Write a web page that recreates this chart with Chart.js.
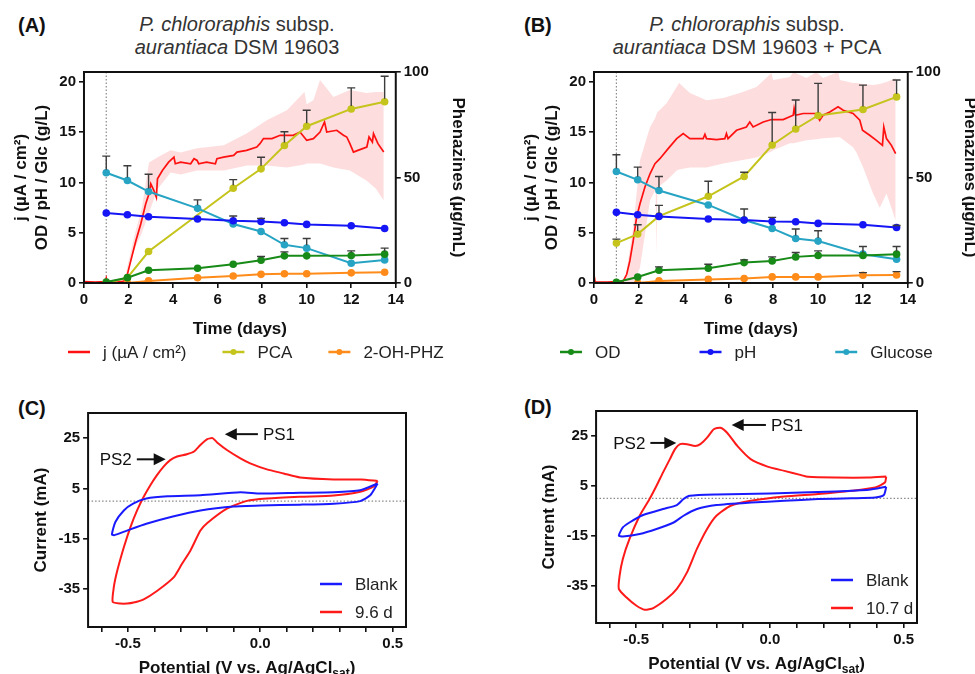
<!DOCTYPE html>
<html>
<head>
<meta charset="utf-8">
<script src="https://cdn.jsdelivr.net/npm/chart.js@4.4.1/dist/chart.umd.min.js"></script>
<style>
  html, body { margin: 0; padding: 0; background: #fff; }
  #page { position: relative; width: 975px; height: 674px; overflow: hidden; font-family: 'Liberation Sans', Arial, sans-serif; }
  canvas { position: absolute; }
  .tag { position: absolute; font-weight: bold; font-size: 20px; line-height: 20px; color: #111; }
  .ttl { position: absolute; width: 400px; font-size: 20px; line-height: 23px; color: #333; text-align: center; }
</style>
</head>
<body>
<div id="page">
  <div class="tag" style="left:18px;top:15px">(A)</div>
  <div class="tag" style="left:524px;top:15px">(B)</div>
  <div class="tag" style="left:18px;top:398px">(C)</div>
  <div class="tag" style="left:524px;top:397px">(D)</div>
  <div class="ttl" style="left:37px;top:13px"><i>P. chlororaphis</i> subsp.<br><i>aurantiaca</i> DSM 19603</div>
  <div class="ttl" style="left:547px;top:13px"><i>P. chlororaphis</i> subsp.<br><i>aurantiaca</i> DSM 19603 + PCA</div>
  <canvas id="chartA" width="485" height="375" style="left:0;top:0"></canvas>
  <canvas id="chartB" width="505" height="375" style="left:485px;top:0"></canvas>
  <canvas id="chartC" width="485" height="289" style="left:0;top:385px"></canvas>
  <canvas id="chartD" width="490" height="289" style="left:485px;top:385px"></canvas>
</div>
<script>
const FAMILY = "'Liberation Sans', Arial, sans-serif";
Chart.defaults.font.family = FAMILY;
Chart.defaults.color = '#111';

// ---------- (A)/(B) time courses ----------
const sampleDays = [1, 1.95, 2.9, 5.1, 6.7, 7.95, 9, 10, 12, 13.5];
const dayTicks = [0, 2, 4, 6, 8, 10, 12, 14];
const leftTicks = [0, 5, 10, 15, 20];
const rightTicks = [0, 50, 100];
const inoculationDay = 1;

// (A) without PCA
const pcaA = [0, 2.5, 14.9, null, 44.9, 54.1, 65.2, 74.3, 82.5, 85.9];
const pcaErrA = [0, 0, 0, 0, 4.1, 5.5, 6.5, 7.6, 10, 12.1];
const ohphzA = [0, 0, 1.0, 2.5, 3.3, 4.1, 4.4, 4.4, 4.8, 5.1];
const ohphzErrA = [0, 0, 0, 0, 0, 0, 0, 0, 0, 0];
const odA = [0.1, 0.53, 1.27, 1.47, 1.87, 2.27, 2.7, 2.7, 2.73, 2.87];
const odErrA = [0, 0, 0, 0, 0, 0.36, 0.4, 0, 0.47, 0.6];
const phA = [6.97, 6.8, 6.6, 6.37, 6.2, 6.13, 6.0, 5.83, 5.7, 5.43];
const phErrA = [0, 0, 0, 0, 0.47, 0.3, 0, 0, 0, 0];
const glcA = [10.97, 10.2, 9.1, 7.43, 5.87, 5.13, 3.8, 3.47, 1.97, 2.3];
const glcErrA = [1.66, 1.47, 1.73, 0.84, 0, 0, 0.63, 0.96, 0, 0];

const jDaysA = [0, 0.5, 0.95, 1.0, 1.05, 1.5, 1.8, 1.95, 2.1, 2.33,
  2.55, 2.77, 2.92, 3.0, 3.14, 3.25, 3.3, 3.52, 3.8, 4.04,
  4.1, 4.34, 4.79, 4.94, 5.08, 5.15, 5.5, 5.9, 5.97, 6.27,
  6.72, 6.87, 7.3, 7.76, 7.9, 8.06, 8.44, 8.81, 9.4, 9.7,
  10.0, 10.3, 10.6, 10.8, 10.9, 11.35, 11.65, 11.8, 11.94, 12.1,
  12.3, 12.7, 12.8, 12.95, 13.0, 13.2, 13.46];
const jA = [0.15, 0.1, 0.15, 0.5, 0.1, 0.1, 0.2, 0.87, 2.2, 4.2,
  5.87, 7.87, 8.87, 9.87, 9.2, 8.53, 10.37, 11.2, 12.03, 12.53,
  11.87, 12.03, 11.87, 12.37, 12.2, 11.87, 12.03, 11.87, 12.37, 12.53,
  12.7, 13.03, 13.2, 13.53, 13.87, 14.37, 14.37, 14.7, 14.7, 15.03,
  14.2, 14.37, 15.03, 16.03, 15.03, 15.2, 14.7, 14.53, 13.87, 13.03,
  13.2, 13.53, 14.53, 14.03, 14.87, 13.87, 13.03];
const bandDaysA = [1.9, 2.3, 2.6, 2.92, 3.29, 3.89, 4.34, 5.08, 6.28, 7.32,
  8.21, 9.11, 9.9, 10.0, 10.3, 10.6, 11.2, 11.94, 12.68, 13.1, 13.46];
const bandHiA = [1.2, 5.0, 7.5, 12.0, 12.5, 13.2, 13.0, 13.4, 13.7, 14.9,
  16.2, 17.2, 19.0, 17.8, 18.2, 20.2, 18.5, 19.2, 18.9, 19.0, 19.0];
const bandLoA = [0.5, 3.5, 5.0, 7.0, 9.3, 11.0, 10.8, 11.2, 11.2, 11.7,
  11.7, 11.5, 11.8, 11.9, 11.9, 11.9, 11.5, 11.2, 10.2, 9.4, 8.2];

// (B) with PCA
const pcaB = [18.9, 23.2, 31.7, 41.1, 50.5, 65.4, 73.0, 79.4, 82.2, 88.2];
const pcaErrB = [1.9, 4.4, 5.1, 7.1, 2.0, 15.4, 13.7, 15.2, 11.6, 8.0];
const ohphzB = [0, 0, 1.0, 1.7, 2.1, 2.9, 2.9, 2.9, 3.7, 3.8];
const ohphzErrB = [0, 0, 0, 0, 0, 0, 0, 0, 1.2, 1.6];
const odB = [0.07, 0.6, 1.27, 1.47, 2.03, 2.2, 2.6, 2.73, 2.73, 2.87];
const odErrB = [0, 0, 0.33, 0.4, 0.27, 0.4, 0.43, 0.47, 0.9, 0.76];
const phB = [7.03, 6.8, 6.63, 6.37, 6.27, 6.13, 6.1, 5.93, 5.8, 5.53];
const phErrB = [0, 0, 0, 0, 0, 0.4, 0, 0, 0, 0.2];
const glcB = [11.1, 10.27, 9.2, 7.77, 6.27, 5.43, 4.43, 4.17, 2.87, 2.37];
const glcErrB = [1.67, 1.26, 1.4, 0, 1.1, 0, 0.94, 1.03, 0, 0];

const jDaysB = [0, 0.05, 0.6, 1.0, 1.31, 1.46, 1.6, 1.75, 1.9, 2.05,
  2.27, 2.5, 2.72, 2.94, 3.31, 3.69, 3.98, 4.28, 4.87, 4.95,
  5.02, 5.47, 5.84, 5.91, 5.98, 6.36, 6.8, 6.95, 7.1, 7.55,
  7.92, 8.44, 8.89, 8.93, 8.99, 9.33, 9.92, 10.07, 10.22, 10.52,
  10.89, 11.12, 11.56, 11.86, 11.98, 12.3, 12.6, 12.87, 12.93, 13.05,
  13.27, 13.46];
const jB = [0.8, 0.1, 0.1, 0.15, 0.2, 0.87, 2.2, 4.2, 6.53, 7.87,
  9.53, 10.87, 11.87, 12.37, 13.37, 14.37, 14.87, 14.37, 14.37, 14.8,
  14.37, 14.27, 14.37, 14.87, 14.37, 15.2, 15.53, 16.03, 15.53, 16.03,
  16.27, 16.27, 16.7, 17.37, 16.7, 16.87, 16.87, 16.2, 16.7, 17.03,
  17.53, 17.2, 16.87, 16.2, 15.2, 14.7, 14.2, 13.7, 15.53, 14.37,
  13.7, 12.87];
const bandDaysB = [1.4, 1.75, 2.05, 2.5, 2.75, 2.79, 2.83, 3.24, 3.69, 3.8,
  4.28, 5.02, 5.77, 6.51, 7.25, 7.92, 7.99, 8.74, 8.9, 9.48,
  9.92, 10.22, 10.9, 10.97, 11.56, 11.71, 12.01, 12.45, 12.75, 13.05,
  13.27, 13.46];
const bandHiB = [0.5, 5.5, 12.2, 15.5, 16.5, 16.8, 17.0, 17.9, 19.5, 19.9,
  18.9, 18.2, 18.4, 18.9, 19.5, 20.9, 20.2, 20.5, 21.0, 20.4,
  21.0, 20.4, 21.0, 20.2, 19.9, 19.9, 19.8, 19.7, 19.8, 20.0,
  20.2, 20.4];
const bandLoB = [0.0, 0.0, 1.5, 8.2, 9.3, 2.9, 9.5, 10.2, 11.2, 11.3,
  11.5, 11.5, 11.9, 12.2, 12.5, 13.1, 13.2, 13.9, 13.9, 14.2,
  14.3, 14.4, 14.5, 14.5, 13.5, 13.0, 11.5, 8.9, 7.5, 8.9,
  7.5, 6.2];

// ---------- (C)/(D) cyclic voltammograms ----------
const cvXTicks = [-0.6, -0.5, -0.4, -0.3, -0.2, -0.1, 0, 0.1, 0.2, 0.3, 0.4, 0.5];
const cvXLabelled = [-0.5, 0, 0.5];
const cvYTicks = [-35, -15, 5, 25];

const blankVC = [0.443, 0.377, 0.277, 0.15, 0.0, -0.075, -0.226, -0.35, -0.43, -0.48,
  -0.515, -0.547, -0.56, -0.55, -0.503, -0.43, -0.33, -0.226, -0.1, 0.0,
  0.15, 0.277, 0.377, 0.415, 0.443];
const blankIC = [7.0, 4.3, 3.5, 3.3, 3.0, 3.5, 2.3, 1.9, 1.0, -1.0,
  -3.7, -8.3, -13.3, -13.5, -11.7, -9.0, -6.1, -3.7, -2.1, -1.7,
  -1.4, -1.0, 0.0, 2.3, 7.0];
const filmVC = [0.443, 0.38, 0.277, 0.15, 0.088, 0.025, -0.038, -0.075, -0.126, -0.163,
  -0.18, -0.2, -0.226, -0.25, -0.277, -0.314, -0.34, -0.365, -0.39, -0.415,
  -0.44, -0.465, -0.49, -0.515, -0.54, -0.553, -0.557, -0.528, -0.503, -0.478,
  -0.44, -0.39, -0.327, -0.296, -0.264, -0.226, -0.2, -0.126, -0.05, 0.025,
  0.15, 0.277, 0.377, 0.427, 0.443];
const filmIC = [8.0, 8.6, 8.6, 9.4, 11.0, 12.6, 15.0, 17.0, 20.3, 23.3,
  25.0, 24.6, 22.3, 19.7, 18.6, 17.7, 16.3, 13.7, 10.3, 6.3,
  1.7, -3.7, -10.3, -18.3, -27.7, -34.3, -40.0, -40.7, -40.7, -40.3,
  -39.0, -35.7, -30.3, -25.0, -19.7, -11.7, -8.7, -3.0, 0.1, 1.0,
  1.7, 2.2, 3.7, 5.7, 8.0];

const blankVD = [0.435, 0.37, 0.243, 0.117, 0.0, -0.2, -0.3, -0.323, -0.348, -0.4,
  -0.474, -0.525, -0.55, -0.565, -0.55, -0.487, -0.424, -0.36, -0.323, -0.273,
  -0.2, -0.07, 0.054, 0.18, 0.306, 0.394, 0.426, 0.435];
const blankID = [4.6, 3.4, 2.7, 2.3, 1.9, 1.5, 1.0, -0.3, -2.7, -4.3,
  -6.7, -9.7, -11.7, -15.0, -15.3, -14.3, -12.3, -9.7, -7.0, -4.3,
  -2.7, -1.7, -1.0, -0.3, 0.0, 0.3, 1.3, 4.6];
const filmVD = [0.435, 0.37, 0.243, 0.142, 0.117, 0.054, -0.009, -0.072, -0.122, -0.16,
  -0.185, -0.21, -0.235, -0.26, -0.28, -0.31, -0.336, -0.355, -0.374, -0.4,
  -0.424, -0.45, -0.487, -0.525, -0.55, -0.562, -0.565, -0.537, -0.5, -0.468,
  -0.436, -0.386, -0.348, -0.31, -0.273, -0.235, -0.2, -0.147, -0.072, 0.054,
  0.18, 0.306, 0.394, 0.43, 0.435];
const filmID = [8.7, 8.3, 8.3, 8.6, 9.3, 11.0, 12.7, 15.7, 21.0, 26.3,
  28.3, 27.7, 24.3, 21.7, 21.0, 21.7, 21.7, 19.7, 15.7, 10.3,
  5.0, -0.3, -7.0, -16.3, -24.3, -31.0, -36.3, -39.7, -43.0, -44.7,
  -44.0, -40.3, -36.3, -29.7, -20.3, -12.3, -7.0, -3.0, -1.0, 0.7,
  1.7, 3.0, 4.3, 6.3, 8.7];

// peak arrows: [label, tip potential, tail potential, current]
const peaksC = [['PS1', -0.134, -0.009, 26.6], ['PS2', -0.357, -0.466, 16.6]];
const peaksD = [['PS1', -0.143, -0.015, 29.4], ['PS2', -0.35, -0.447, 22.2]];

// ---------- styling ----------
const COL = { j: '#ff1111', pca: '#c4c41c', oh: '#ff8c1a', od: '#178a17', ph: '#1515f5', glc: '#27a4c4' };
const BAND = 'rgba(250, 150, 150, 0.32)';
const tickFont = { size: 15, weight: 'bold' };
const titleFont = { size: 17, weight: 'bold' };
const tickGrid = { display: true, drawOnChartArea: false, drawTicks: true, tickLength: 5, color: '#111', lineWidth: 1.6 };
const noBorder = { display: false };

const pts = (xs, ys) => xs.map((x, i) => ({ x: x, y: ys[i] }));
const fixedTicks = arr => scale => { scale.ticks = arr.map(v => ({ value: v })); };

// ---------- plugins ----------
const frame = {
  id: 'frame',
  afterDraw(chart) {
    const { ctx, chartArea: a } = chart;
    ctx.save();
    ctx.strokeStyle = '#111';
    ctx.lineWidth = 2;
    ctx.strokeRect(a.left, a.top, a.width, a.height);
    ctx.restore();
  }
};

function refLines(xs, ys) {
  return {
    id: 'refLines',
    beforeDatasetsDraw(chart) {
      const { ctx, chartArea: a, scales } = chart;
      ctx.save();
      ctx.strokeStyle = '#8a8a8a';
      ctx.lineWidth = 1.2;
      ctx.setLineDash([1.5, 2]);
      xs.forEach(v => {
        const px = scales.x.getPixelForValue(v);
        ctx.beginPath(); ctx.moveTo(px, a.top); ctx.lineTo(px, a.bottom); ctx.stroke();
      });
      ys.forEach(v => {
        const py = scales.y.getPixelForValue(v);
        ctx.beginPath(); ctx.moveTo(a.left, py); ctx.lineTo(a.right, py); ctx.stroke();
      });
      ctx.restore();
    }
  };
}

const errorBars = {
  id: 'errorBars',
  afterDatasetsDraw(chart) {
    const ctx = chart.ctx;
    ctx.save();
    ctx.strokeStyle = '#3c3c3c';
    ctx.lineWidth = 1.4;
    chart.data.datasets.forEach((ds, i) => {
      if (!ds.errors) return;
      const meta = chart.getDatasetMeta(i);
      const ys = chart.scales[meta.yAxisID];
      meta.data.forEach((pt, k) => {
        const e = ds.errors[k], v = ds.data[k].y;
        if (!e || v === null) return;
        const top = ys.getPixelForValue(v + e);
        ctx.beginPath();
        ctx.moveTo(pt.x, pt.y - 3);
        ctx.lineTo(pt.x, top);
        ctx.moveTo(pt.x - 4, top);
        ctx.lineTo(pt.x + 4, top);
        ctx.stroke();
      });
    });
    ctx.restore();
  }
};

function rowLegend(items, x0, y, gap) {
  return {
    id: 'rowLegend',
    afterDraw(chart) {
      const ctx = chart.ctx;
      ctx.save();
      ctx.font = '17px ' + FAMILY;
      ctx.textBaseline = 'middle';
      let x = x0;
      items.forEach(idx => {
        const ds = chart.data.datasets[idx];
        ctx.strokeStyle = ds.borderColor;
        ctx.lineWidth = 2.5;
        ctx.beginPath(); ctx.moveTo(x, y); ctx.lineTo(x + 22, y); ctx.stroke();
        if (ds.pointRadius > 0) {
          ctx.fillStyle = ds.borderColor;
          ctx.beginPath(); ctx.arc(x + 11, y, 3, 0, Math.PI * 2); ctx.fill();
        }
        ctx.fillStyle = '#222';
        ctx.fillText(ds.label, x + 35, y + 1);
        x += 35 + ctx.measureText(ds.label).width + gap;
      });
      ctx.restore();
    }
  };
}

const cvLegend = {
  id: 'cvLegend',
  afterDraw(chart) {
    const { ctx, chartArea: a } = chart;
    ctx.save();
    ctx.font = '17px ' + FAMILY;
    ctx.textBaseline = 'middle';
    chart.data.datasets.forEach((ds, i) => {
      const y = a.bottom - 43 + i * 28;
      ctx.strokeStyle = ds.borderColor;
      ctx.lineWidth = 2.5;
      ctx.beginPath(); ctx.moveTo(a.right - 86, y); ctx.lineTo(a.right - 64, y); ctx.stroke();
      ctx.fillStyle = '#222';
      ctx.fillText(ds.label, a.right - 51, y + 1);
    });
    ctx.restore();
  }
};

function peakLabels(peaks) {
  return {
    id: 'peakLabels',
    afterDraw(chart) {
      const { ctx, scales } = chart;
      ctx.save();
      ctx.font = '17px ' + FAMILY;
      ctx.fillStyle = '#111';
      ctx.strokeStyle = '#111';
      ctx.lineWidth = 2;
      ctx.textBaseline = 'middle';
      peaks.forEach(([label, tip, tail, cur]) => {
        const tx = scales.x.getPixelForValue(tip);
        const sx = scales.x.getPixelForValue(tail);
        const py = scales.y.getPixelForValue(cur);
        const dir = Math.sign(tx - sx);
        ctx.beginPath(); ctx.moveTo(sx, py); ctx.lineTo(tx - dir * 10, py); ctx.stroke();
        ctx.beginPath();
        ctx.moveTo(tx, py); ctx.lineTo(tx - dir * 12, py - 6); ctx.lineTo(tx - dir * 12, py + 6);
        ctx.closePath(); ctx.fill();
        ctx.textAlign = dir < 0 ? 'left' : 'right';
        ctx.fillText(label, sx - dir * 5, py + 1);
      });
      ctx.restore();
    }
  };
}

const cvTitle = {
  id: 'cvTitle',
  afterDraw(chart) {
    const { ctx, chartArea: a } = chart;
    const main = 'bold 17px ' + FAMILY, sub = 'bold 12px ' + FAMILY;
    const t1 = 'Potential (V vs. Ag/AgCl', t2 = 'sat', t3 = ')';
    ctx.save();
    ctx.fillStyle = '#111';
    ctx.font = main;
    const w1 = ctx.measureText(t1).width, w3 = ctx.measureText(t3).width;
    ctx.font = sub;
    const w2 = ctx.measureText(t2).width;
    let x = (a.left + a.right) / 2 - (w1 + w2 + w3) / 2;
    const y = a.bottom + 46;
    ctx.font = main; ctx.fillText(t1, x, y); x += w1;
    ctx.font = sub; ctx.fillText(t2, x, y + 4); x += w2;
    ctx.font = main; ctx.fillText(t3, x, y);
    ctx.restore();
  }
};

// ---------- builders ----------
function series(label, ys, errs, color, axis, order) {
  return {
    label: label, data: pts(sampleDays, ys), errors: errs, yAxisID: axis,
    borderColor: color, backgroundColor: color, borderWidth: 2,
    pointRadius: 3.8, pointBorderWidth: 0, pointBackgroundColor: color,
    spanGaps: true, tension: 0, order: order
  };
}

function growthChart(id, d, pad, legend) {
  new Chart(document.getElementById(id), {
    type: 'line',
    data: {
      datasets: [
        { label: 'band+', data: pts(d.bandDays, d.bandHi), borderWidth: 0, pointRadius: 0,
          backgroundColor: BAND, fill: '+1', order: 20 },
        { label: 'band-', data: pts(d.bandDays, d.bandLo), borderWidth: 0, pointRadius: 0,
          fill: false, order: 21 },
        { label: 'j (µA / cm²)', data: pts(d.jDays, d.j), borderColor: COL.j, borderWidth: 1.7,
          pointRadius: 0, tension: 0, order: 10 },
        series('PCA', d.pca, d.pcaErr, COL.pca, 'y2', 6),
        series('2-OH-PHZ', d.oh, d.ohErr, COL.oh, 'y2', 5),
        series('OD', d.od, d.odErr, COL.od, 'y', 2),
        series('pH', d.ph, d.phErr, COL.ph, 'y', 3),
        series('Glucose', d.glc, d.glcErr, COL.glc, 'y', 4)
      ]
    },
    options: {
      responsive: false, animation: false, devicePixelRatio: 1, events: [],
      layout: { padding: pad },
      scales: {
        x: {
          type: 'linear', min: 0, max: 14, afterBuildTicks: fixedTicks(dayTicks),
          ticks: { font: tickFont, padding: 3, maxRotation: 0, autoSkip: false, color: '#111' },
          grid: tickGrid, border: noBorder,
          title: { display: true, text: 'Time (days)', font: titleFont, color: '#111', padding: { top: 7, bottom: 2 } }
        },
        y: {
          type: 'linear', position: 'left', min: 0, max: 21, afterBuildTicks: fixedTicks(leftTicks),
          ticks: { font: tickFont, padding: 3, color: '#111' },
          grid: tickGrid, border: noBorder,
          title: { display: true, text: ['j (µA / cm²)', 'OD / pH / Glc (g/L)'], font: titleFont, color: '#111', padding: { top: 4, bottom: 4 } }
        },
        y2: {
          type: 'linear', position: 'right', min: 0, max: 100, afterBuildTicks: fixedTicks(rightTicks),
          ticks: { font: tickFont, padding: 3, color: '#111' },
          grid: tickGrid, border: noBorder,
          title: { display: true, text: 'Phenazines (µg/mL)', font: titleFont, color: '#111', padding: { top: 4, bottom: 16 } }
        }
      },
      plugins: { legend: { display: false }, tooltip: { enabled: false } }
    },
    plugins: [refLines([inoculationDay], []), errorBars, frame, rowLegend(legend.items, legend.x, legend.y, legend.gap)]
  });
}

function cvChart(id, blankV, blankI, filmV, filmI, filmLabel, peaks, pad) {
  new Chart(document.getElementById(id), {
    type: 'scatter',
    data: {
      datasets: [
        { label: 'Blank', data: pts(blankV, blankI), showLine: true, borderColor: '#1a1aff',
          borderWidth: 2, pointRadius: 0, tension: 0.2 },
        { label: filmLabel, data: pts(filmV, filmI), showLine: true, borderColor: '#ff1a1a',
          borderWidth: 2, pointRadius: 0, tension: 0.2 }
      ]
    },
    options: {
      responsive: false, animation: false, devicePixelRatio: 1, events: [],
      layout: { padding: pad },
      scales: {
        x: {
          type: 'linear', min: -0.65, max: 0.55, afterBuildTicks: fixedTicks(cvXTicks),
          ticks: {
            font: tickFont, padding: 3, maxRotation: 0, autoSkip: false, color: '#111',
            callback: v => cvXLabelled.some(l => Math.abs(l - v) < 1e-6) ? v.toFixed(1) : ''
          },
          grid: tickGrid, border: noBorder
        },
        y: {
          type: 'linear', min: -50, max: 35, afterBuildTicks: fixedTicks(cvYTicks),
          ticks: { font: tickFont, padding: 3, color: '#111' },
          grid: tickGrid, border: noBorder,
          title: { display: true, text: 'Current (mA)', font: titleFont, color: '#111', padding: { top: 4, bottom: 4 } }
        }
      },
      plugins: { legend: { display: false }, tooltip: { enabled: false } }
    },
    plugins: [refLines([], [0]), frame, cvLegend, peakLabels(peaks), cvTitle]
  });
}

growthChart('chartA', {
  bandDays: bandDaysA, bandHi: bandHiA, bandLo: bandLoA, jDays: jDaysA, j: jA,
  pca: pcaA, pcaErr: pcaErrA, oh: ohphzA, ohErr: ohphzErrA, od: odA, odErr: odErrA,
  ph: phA, phErr: phErrA, glc: glcA, glcErr: glcErrA
}, { left: 7.5, right: 12.8, top: 72, bottom: 33.6 }, { items: [2, 3, 4], x: 68, y: 352, gap: 36 });

growthChart('chartB', {
  bandDays: bandDaysB, bandHi: bandHiB, bandLo: bandLoB, jDays: jDaysB, j: jB,
  pca: pcaB, pcaErr: pcaErrB, oh: ohphzB, ohErr: ohphzErrB, od: odB, odErr: odErrB,
  ph: phB, phErr: phErrB, glc: glcB, glcErr: glcErrB
}, { left: 32.5, right: 5.8, top: 72, bottom: 33.6 }, { items: [5, 6, 7], x: 75, y: 352, gap: 79 });

cvChart('chartC', blankVC, blankIC, filmVC, filmIC, '9.6 d', peaksC, { left: 27, right: 79, top: 28, bottom: 18 });
cvChart('chartD', blankVD, blankID, filmVD, filmID, '10.7 d', peaksD, { left: 50, right: 58, top: 26, bottom: 22 });
</script>
</body>
</html>
